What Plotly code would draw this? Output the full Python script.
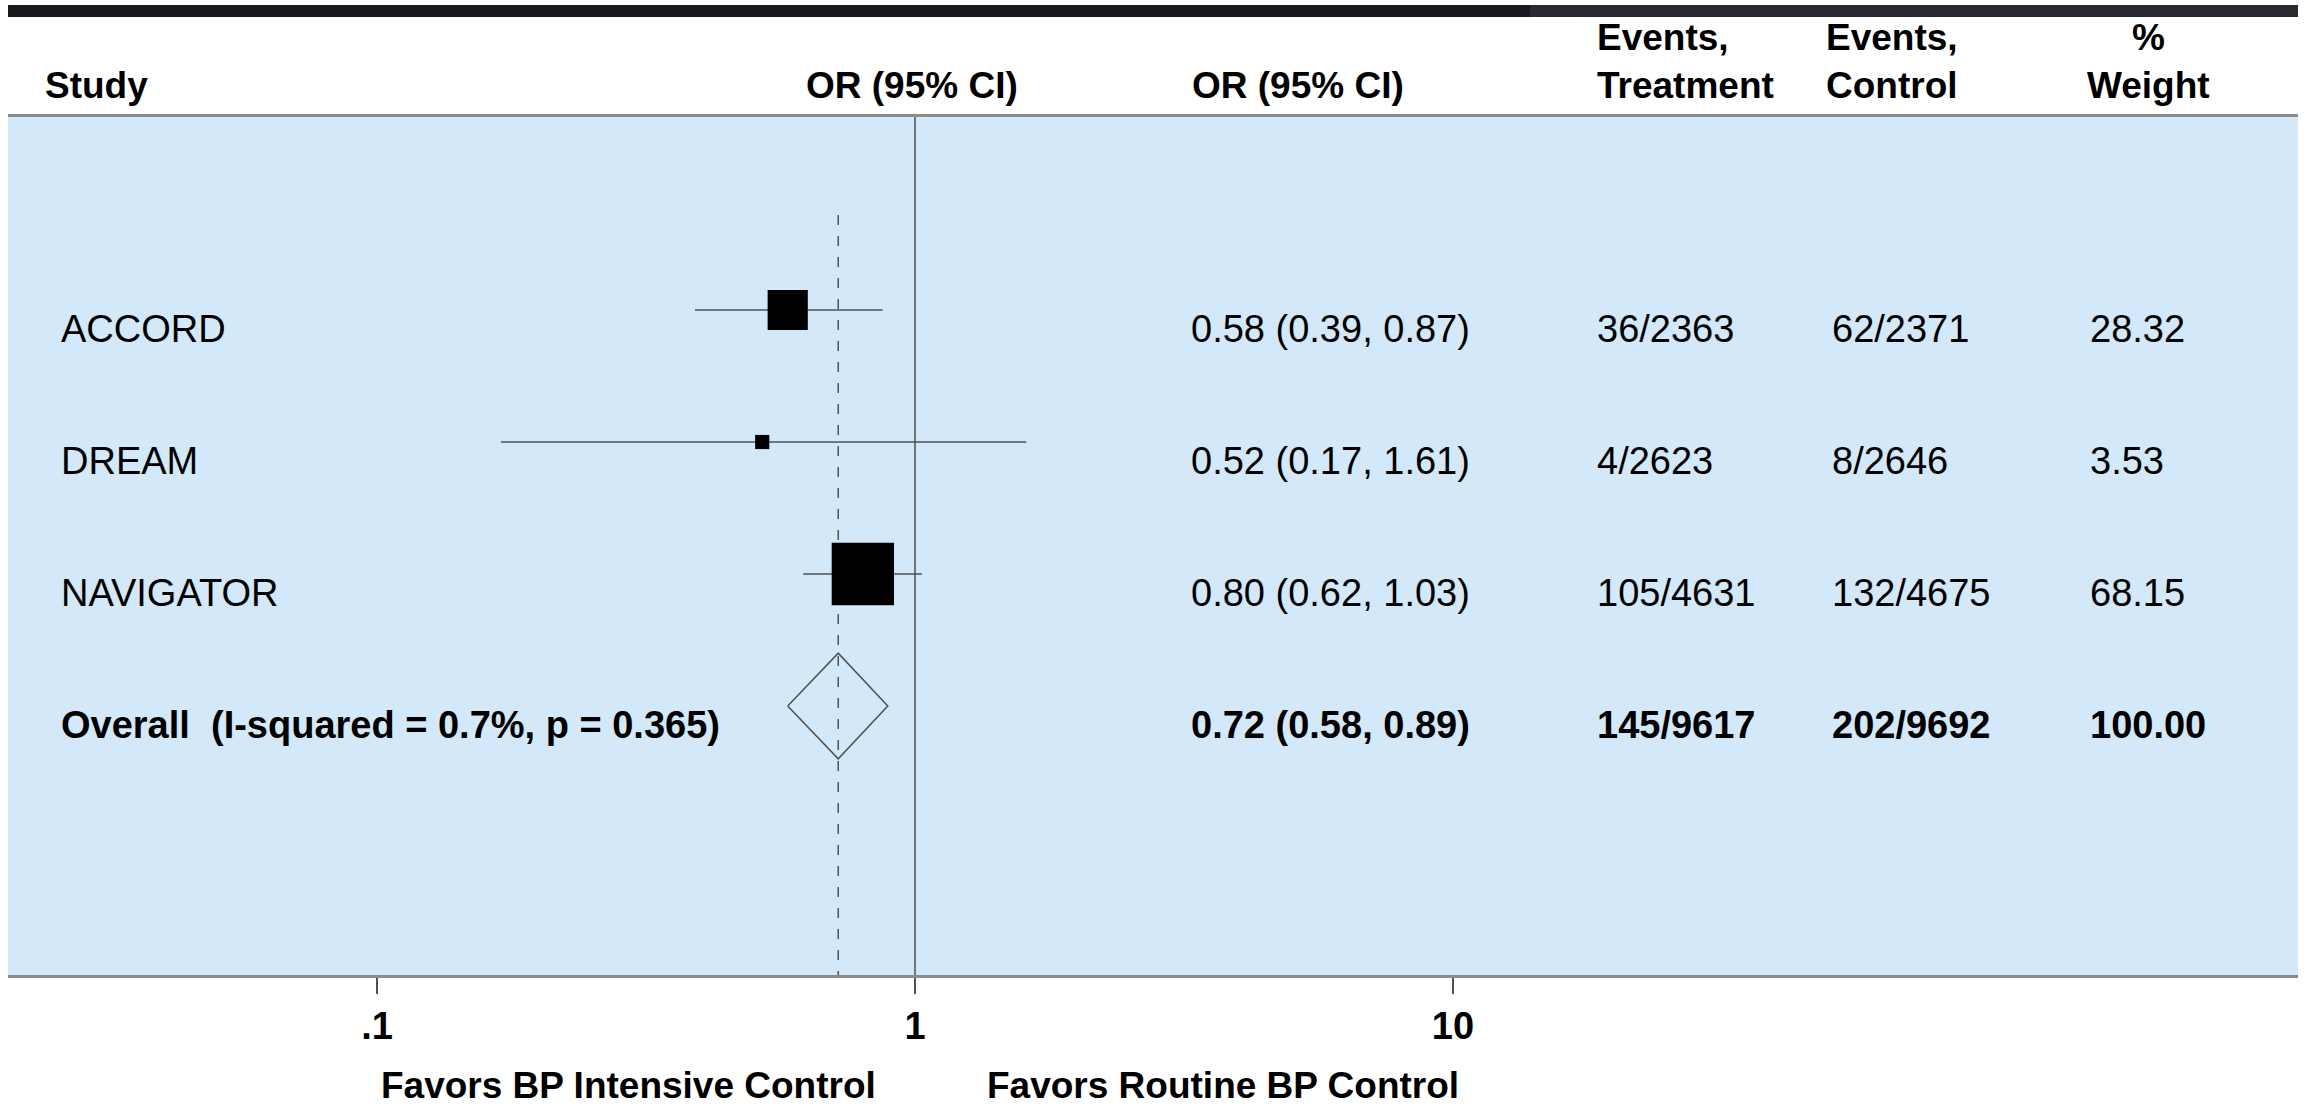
import plotly.graph_objects as go

# ---- data ---------------------------------------------------------------
studies = ["ACCORD", "DREAM", "NAVIGATOR"]
or_est = [0.58, 0.52, 0.80]
ci_low = [0.39, 0.17, 0.62]
ci_high = [0.87, 1.61, 1.03]
events_trt = ["36/2363", "4/2623", "105/4631"]
events_ctl = ["62/2371", "8/2646", "132/4675"]
weights = [28.32, 3.53, 68.15]

overall_label = "Overall  (I-squared = 0.7%, p = 0.365)"
overall_or = 0.72
overall_low = 0.58
overall_high = 0.89
overall_trt = "145/9617"
overall_ctl = "202/9692"
overall_weight = 100.00

tick_vals = [0.1, 1, 10]
tick_text = [".1", "1", "10"]

headers_single = ["Study", "OR (95% CI)", "OR (95% CI)"]
header_trt = ["Events,", "Treatment"]
header_ctl = ["Events,", "Control"]
header_wt = ["%", "Weight"]
favors_left = "Favors BP Intensive Control"
favors_right = "Favors Routine BP Control"

# ---- layout helpers ----------------------------------------------------
W, H = 2305, 1110
FONT = "Liberation Sans, Arial, Helvetica, sans-serif"
BLUE = "#d3e8f8"
LINE = "#505050"

PANEL_L, PANEL_R = 8, 2298
PANEL_T, PANEL_B = 117, 975
X_ONE_PX, DECADE_PX = 915, 538
ROW_PX, ROW1_PX = 132, 310


def px(xp):
    return xp / W


def py(yp):
    return 1 - yp / H


x_range = [(PANEL_L - X_ONE_PX) / DECADE_PX, (PANEL_R - X_ONE_PX) / DECADE_PX]
y_top = 1 + (PANEL_T - ROW1_PX) / ROW_PX
y_bot = 1 + (PANEL_B - ROW1_PX) / ROW_PX

rows = list(range(1, len(studies) + 1))
overall_row = len(studies) + 1

fig = go.Figure()

# confidence interval whiskers
cx, cy = [], []
for lo, hi, r in zip(ci_low, ci_high, rows):
    cx += [lo, hi, None]
    cy += [r, r, None]
fig.add_trace(go.Scatter(x=cx, y=cy, mode="lines",
                         line=dict(color=LINE, width=1.5),
                         hoverinfo="skip", showlegend=False))

# weighted point estimates (square area proportional to weight)
fig.add_trace(go.Scatter(
    x=or_est, y=rows, mode="markers", opacity=1,
    marker=dict(symbol="square", color="#000000", opacity=1,
                size=[7.55 * w ** 0.5 for w in weights],
                line=dict(width=0)),
    showlegend=False))

# pooled estimate diamond
half_h = 0.4
fig.add_trace(go.Scatter(
    x=[overall_low, overall_or, overall_high, overall_or, overall_low],
    y=[overall_row, overall_row - half_h, overall_row,
       overall_row + half_h, overall_row],
    mode="lines", line=dict(color=LINE, width=1.5),
    hoverinfo="skip", showlegend=False))

shapes = [
    # dark strip across the top
    dict(type="rect", xref="paper", yref="paper",
         x0=px(PANEL_L), x1=px(1530), y0=py(17), y1=py(5),
         fillcolor="#19181f", line=dict(width=0), layer="above"),
    dict(type="rect", xref="paper", yref="paper",
         x0=px(1530), x1=px(PANEL_R), y0=py(17), y1=py(5),
         fillcolor="#2a2932", line=dict(width=0), layer="above"),
    # line of no effect
    dict(type="line", xref="x", yref="y domain", x0=1, x1=1, y0=0, y1=1,
         line=dict(color=LINE, width=1.5), layer="above"),
    # pooled estimate reference
    dict(type="line", xref="x", yref="y", x0=overall_or, x1=overall_or,
         y0=rows[0] - 0.72, y1=y_bot,
         line=dict(color=LINE, width=1.5, dash="10px,11px"), layer="below"),
]

ann = []
BODY = 38
TXT_SHIFT = -19


def row_text(x_px, y_row, text, bold=False, anchor="left"):
    if bold:
        text = "<b>" + text + "</b>"
    ann.append(dict(xref="paper", yref="y", x=px(x_px), y=y_row,
                    yshift=TXT_SHIFT, text=text, showarrow=False,
                    xanchor=anchor, yanchor="middle",
                    font=dict(family=FONT, size=BODY, color="black")))


COL_STUDY, COL_OR, COL_TRT, COL_CTL, COL_WT = 59, 1189, 1595, 1830, 2088

for r, s, o, lo, hi, et, ec, w in zip(rows, studies, or_est, ci_low, ci_high,
                                       events_trt, events_ctl, weights):
    row_text(COL_STUDY, r, s)
    row_text(COL_OR, r, f"{o:.2f} ({lo:.2f}, {hi:.2f})")
    row_text(COL_TRT, r, et)
    row_text(COL_CTL, r, ec)
    row_text(COL_WT, r, f"{w:.2f}")

row_text(COL_STUDY, overall_row, overall_label, bold=True)
row_text(COL_OR, overall_row,
         f"{overall_or:.2f} ({overall_low:.2f}, {overall_high:.2f})", bold=True)
row_text(COL_TRT, overall_row, overall_trt, bold=True)
row_text(COL_CTL, overall_row, overall_ctl, bold=True)
row_text(COL_WT, overall_row, f"{overall_weight:.2f}", bold=True)


def head(x_px, y_px, text, anchor="left", size=37):
    ann.append(dict(xref="paper", yref="paper", x=px(x_px), y=py(y_px),
                    text="<b>" + text + "</b>", showarrow=False,
                    xanchor=anchor, yanchor="middle",
                    font=dict(family=FONT, size=size, color="black")))


HEAD_Y2, HEAD_Y1 = 86, 38
head(43, HEAD_Y2, headers_single[0])
head(1020, HEAD_Y2, headers_single[1], anchor="right")
head(1190, HEAD_Y2, headers_single[2])
head(COL_TRT, HEAD_Y1, header_trt[0])
head(COL_TRT, HEAD_Y2, header_trt[1])
head(1824, HEAD_Y1, header_ctl[0])
head(1824, HEAD_Y2, header_ctl[1])
head(2148, HEAD_Y1, header_wt[0], anchor="center")
head(2148, HEAD_Y2, header_wt[1], anchor="center")

head(878, 1085, favors_left, anchor="right", size=37)
head(985, 1085, favors_right, anchor="left", size=37)

fig.update_layout(
    width=W, height=H,
    margin=dict(l=0, r=0, t=0, b=0),
    paper_bgcolor="white",
    plot_bgcolor=BLUE,
    showlegend=False,
    shapes=shapes,
    annotations=ann,
    xaxis=dict(type="log", range=x_range,
               domain=[px(PANEL_L), px(PANEL_R)],
               showgrid=False, zeroline=False,
               showline=True, mirror=True, linecolor="#8c8c8c", linewidth=2.5,
               ticks="outside", ticklen=16, tickwidth=1.5, tickcolor=LINE,
               tickvals=tick_vals,
               ticktext=["<b>" + t + "</b>" for t in tick_text],
               tickfont=dict(family=FONT, size=38, color="black"),
               fixedrange=True),
    yaxis=dict(range=[y_bot, y_top],
               domain=[py(PANEL_B), py(PANEL_T)],
               showgrid=False, zeroline=False, showline=False,
               showticklabels=False, ticks="", fixedrange=True),
)

fig.write_html("out.html")
